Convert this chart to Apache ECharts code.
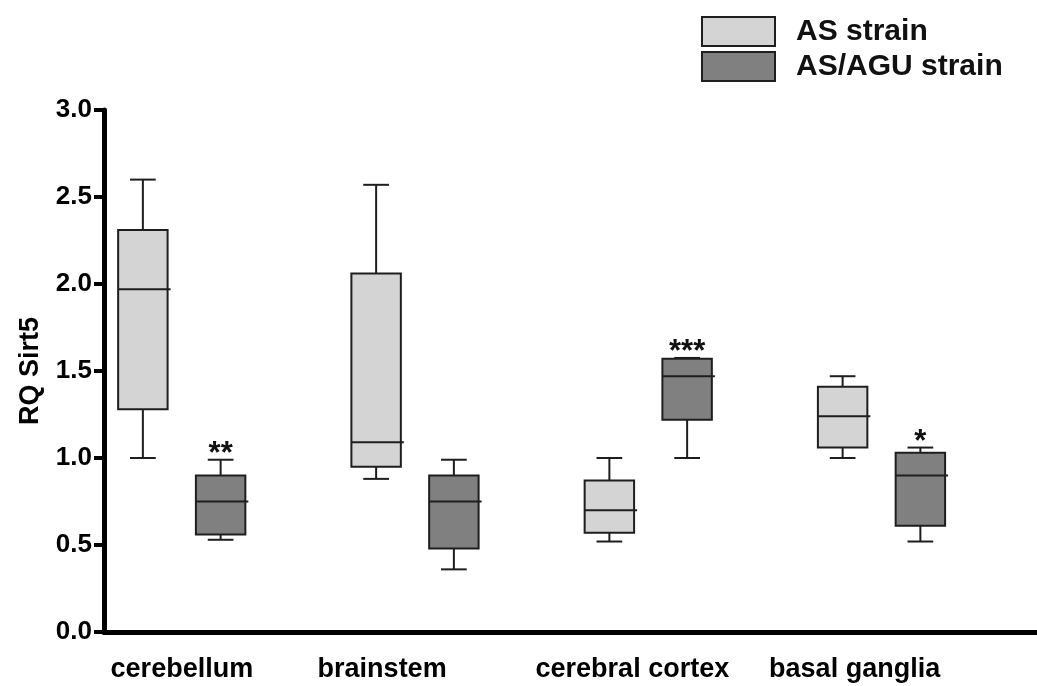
<!DOCTYPE html>
<html>
<head>
<meta charset="utf-8">
<script src="https://cdn.jsdelivr.net/npm/echarts@6/dist/echarts.min.js"></script>
<style>
  html, body { margin: 0; padding: 0; background: #fff; }
  #chart { width: 1037px; height: 686px; }
</style>
</head>
<body>
<div id="chart"></div>
<script>
// Brain regions and the two strains compared in each
const regions = ['cerebellum', 'brainstem', 'cerebral cortex', 'basal ganglia'];
const strains = ['AS strain', 'AS/AGU strain'];

// Box statistics per region: [min, Q1, median, Q3, max]
const asStrain = [
  [1.00, 1.28, 1.97, 2.31, 2.60],
  [0.88, 0.95, 1.09, 2.06, 2.57],
  [0.52, 0.57, 0.70, 0.87, 1.00],
  [1.00, 1.06, 1.24, 1.41, 1.47]
];
const asAguStrain = [
  [0.53, 0.56, 0.75, 0.90, 0.99],
  [0.36, 0.48, 0.75, 0.90, 0.99],
  [1.00, 1.22, 1.47, 1.57, 1.575],
  [0.52, 0.61, 0.90, 1.03, 1.06]
];

// Significance marks shown above the AS/AGU boxes
const significance = ['**', '', '***', '*'];

// Value axis range and step
const yRange = { min: 0, max: 3, step: 0.5 };

// ---- styling ----
const FONT = '"Liberation Sans", Arial, Helvetica, sans-serif';
const EDGE = '#1e1e1e';
const FILLS = ['#d4d4d4', '#808080'];
const BOX_RATIO = 0.636;   // box width as a share of one slot
const CAP_RATIO = 0.52;    // whisker cap width as a share of the box
const LABEL_SHIFT = [78, 12, 46, 24]; // left padding nudging each region label

// Each region takes three slots on the x axis: AS box, AS/AGU box, spacer
const slotNames = regions.flatMap(r => [r + '|AS', r + '|AGU', r + '|gap']);

function toSeriesData(stats, offset) {
  return stats.map((s, i) => [i * 3 + offset].concat(s));
}

function renderBox(params, api) {
  const x = api.value(0);
  const lo = api.coord([x, api.value(1)]);
  const q1 = api.coord([x, api.value(2)]);
  const md = api.coord([x, api.value(3)]);
  const q3 = api.coord([x, api.value(4)]);
  const hi = api.coord([x, api.value(5)]);
  const slot = api.size([1, 0])[0];
  const bw = slot * BOX_RATIO;
  const cw = bw * CAP_RATIO;
  const cx = lo[0];
  const line = { stroke: EDGE, lineWidth: 2 };
  const children = [
    { type: 'line', shape: { x1: cx, y1: hi[1], x2: cx, y2: q3[1] }, style: line },
    { type: 'line', shape: { x1: cx, y1: q1[1], x2: cx, y2: lo[1] }, style: line },
    { type: 'line', shape: { x1: cx - cw / 2, y1: hi[1], x2: cx + cw / 2, y2: hi[1] }, style: line },
    { type: 'line', shape: { x1: cx - cw / 2, y1: lo[1], x2: cx + cw / 2, y2: lo[1] }, style: line },
    { type: 'rect', shape: { x: cx - bw / 2, y: q3[1], width: bw, height: q1[1] - q3[1] },
      style: { fill: api.visual('color'), stroke: EDGE, lineWidth: 2 } },
    { type: 'line', shape: { x1: cx - bw / 2, y1: md[1], x2: cx + bw / 2 + 3, y2: md[1] }, style: line }
  ];
  const mark = params.seriesIndex === 1 ? significance[params.dataIndex] : '';
  if (mark) {
    children.push({
      type: 'text',
      style: {
        text: mark, x: cx, y: hi[1] + 10,
        align: 'center', verticalAlign: 'bottom',
        fontSize: 31, fontWeight: 'bold', fontFamily: FONT, fill: '#111'
      }
    });
  }
  return { type: 'group', children };
}

const richLabels = {};
regions.forEach((r, i) => {
  richLabels['r' + i] = {
    fontSize: 27, fontWeight: 'bold', fontFamily: FONT, color: '#000',
    padding: [0, 0, 0, LABEL_SHIFT[i]]
  };
});

const chart = echarts.init(document.getElementById('chart'), null, { renderer: 'canvas' });
chart.setOption({
  animation: false,
  backgroundColor: '#fff',
  grid: { left: 104, top: 110, height: 522, width: 944, containLabel: false },
  legend: {
    orient: 'vertical',
    left: 701, top: 16, padding: 0,
    itemWidth: 73, itemHeight: 29, itemGap: 4,
    selectedMode: false,
    textStyle: {
      fontSize: 30, fontWeight: 'bold', fontFamily: FONT, color: '#111',
      lineHeight: 29, padding: [0, 0, 0, 16]
    },
    data: strains.map((s, i) => ({
      name: s, icon: 'rect',
      itemStyle: { color: FILLS[i], borderColor: EDGE, borderWidth: 2 }
    }))
  },
  xAxis: {
    type: 'category',
    data: slotNames,
    boundaryGap: true,
    axisLine: { show: true, lineStyle: { color: '#000', width: 5 } },
    axisTick: { show: false },
    splitLine: { show: false },
    axisLabel: {
      interval: 0, margin: 24, hideOverlap: false,
      formatter: (value) => {
        const [r, kind] = value.split('|');
        if (kind !== 'AS') return '';
        const i = regions.indexOf(r);
        return '{r' + i + '|' + r + '}';
      },
      rich: richLabels
    }
  },
  yAxis: {
    type: 'value',
    min: yRange.min, max: yRange.max, interval: yRange.step,
    name: 'RQ Sirt5',
    nameLocation: 'middle',
    nameGap: 60,
    nameTextStyle: { fontSize: 27, fontWeight: 'bold', fontFamily: FONT, color: '#000' },
    axisLine: { show: true, lineStyle: { color: '#000', width: 5 } },
    axisTick: { show: true, length: 10, lineStyle: { color: '#000', width: 4 } },
    splitLine: { show: false },
    axisLabel: {
      fontSize: 26, fontWeight: 'bold', fontFamily: FONT, color: '#000', margin: 12,
      formatter: v => v.toFixed(1)
    }
  },
  series: [
    {
      name: strains[0], type: 'custom', renderItem: renderBox,
      itemStyle: { color: FILLS[0] },
      encode: { x: 0, y: [1, 2, 3, 4, 5] },
      data: toSeriesData(asStrain, 0)
    },
    {
      name: strains[1], type: 'custom', renderItem: renderBox,
      itemStyle: { color: FILLS[1] },
      encode: { x: 0, y: [1, 2, 3, 4, 5] },
      data: toSeriesData(asAguStrain, 1)
    }
  ]
});
</script>
</body>
</html>
